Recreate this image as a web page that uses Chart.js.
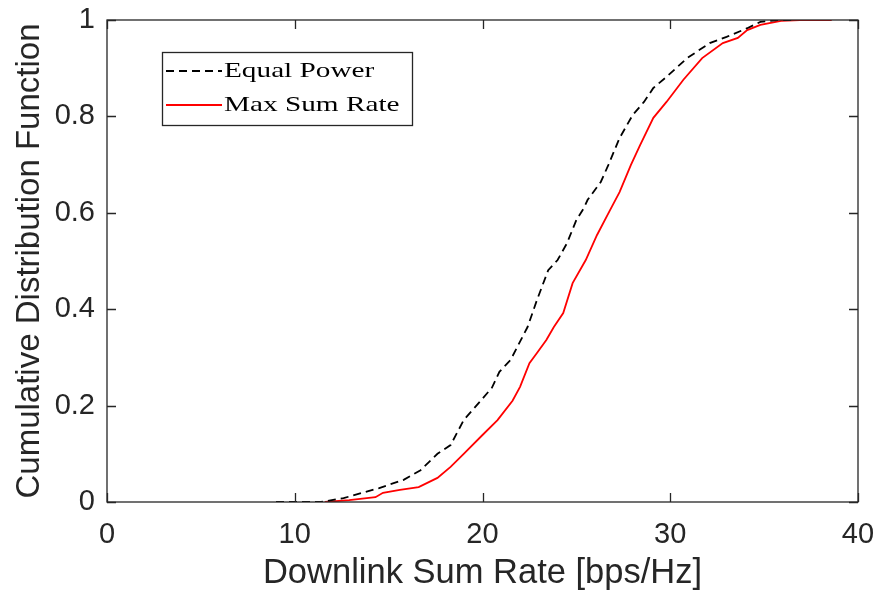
<!DOCTYPE html>
<html>
<head>
<meta charset="utf-8">
<script src="https://cdn.jsdelivr.net/npm/chart.js@4/dist/chart.umd.min.js"></script>
<style>
  html, body { margin: 0; padding: 0; background: #fff; }
  #wrap { width: 881px; height: 594px; }
</style>
</head>
<body>
<div id="wrap"><canvas id="cdf-chart" width="881" height="594"></canvas></div>
<script>
// valores
const xEqual = [9.0, 11.4, 12.6, 14.5, 15.8, 16.7, 17.6, 18.3, 19.0, 19.9, 20.5, 20.9, 21.5, 22.4, 22.9, 23.5, 24.0, 24.5, 25.0, 25.4, 25.6, 26.3, 26.7, 27.3, 28.0, 28.6, 29.1, 29.8, 30.9, 32.1, 33.0, 34.1, 34.8, 35.7, 36.5];
const yEqual = [0, 0, 0.008, 0.029, 0.046, 0.066, 0.10, 0.118, 0.17, 0.21, 0.237, 0.27, 0.295, 0.363, 0.419, 0.481, 0.502, 0.537, 0.585, 0.61, 0.627, 0.664, 0.699, 0.755, 0.803, 0.83, 0.859, 0.882, 0.921, 0.952, 0.965, 0.983, 0.996, 1, 1];

const xMax = [11.6, 12.9, 14.3, 14.7, 15.6, 16.6, 17.6, 18.3, 19.0, 20.0, 20.8, 21.6, 22.0, 22.5, 22.9, 23.4, 23.8, 24.3, 24.8, 25.5, 26.1, 26.8, 27.3, 27.9, 28.4, 29.1, 29.8, 30.7, 31.7, 32.8, 33.6, 34.1, 34.8, 35.9, 36.9, 38.6];
const yMax = [0, 0.004, 0.01, 0.019, 0.025, 0.031, 0.05, 0.073, 0.10, 0.139, 0.17, 0.21, 0.239, 0.288, 0.309, 0.336, 0.363, 0.392, 0.454, 0.502, 0.554, 0.606, 0.643, 0.699, 0.741, 0.797, 0.83, 0.876, 0.921, 0.952, 0.963, 0.979, 0.99, 0.998, 1, 1];

const seriesLabels = ['Equal Power', 'Max Sum Rate'];
const xTicks = [0, 10, 20, 30, 40];
const yTicks = [0, 0.2, 0.4, 0.6, 0.8, 1];

const axisColor = '#262626';
const sansFont = '"Liberation Sans", Arial, sans-serif';

function toPoints(xs, ys) {
    return xs.map((x, i) => ({ x: x, y: ys[i] }));
}

// caixa e marcas para dentro, estilo MATLAB
const boxTicks = {
    id: 'boxTicks',
    afterDatasetsDraw(chart) {
        const { ctx, chartArea: a, scales } = chart;
        const len = 9;
        ctx.save();
        ctx.strokeStyle = axisColor;
        ctx.lineWidth = 1.3;
        ctx.strokeRect(a.left, a.top, a.right - a.left, a.bottom - a.top);
        ctx.beginPath();
        xTicks.forEach(v => {
            const px = Math.round(scales.x.getPixelForValue(v)) + 0.5;
            ctx.moveTo(px, a.bottom); ctx.lineTo(px, a.bottom - len);
            ctx.moveTo(px, a.top); ctx.lineTo(px, a.top + len);
        });
        yTicks.forEach(v => {
            const py = Math.round(scales.y.getPixelForValue(v)) + 0.5;
            ctx.moveTo(a.left, py); ctx.lineTo(a.left + len, py);
            ctx.moveTo(a.right, py); ctx.lineTo(a.right - len, py);
        });
        ctx.stroke();
        ctx.restore();
    }
};

// legenda com moldura dentro da área do gráfico
const boxLegend = {
    id: 'boxLegend',
    afterDraw(chart) {
        const { ctx } = chart;
        const left = 162, top = 52, w = 250, h = 73;
        ctx.save();
        ctx.fillStyle = '#fff';
        ctx.fillRect(left, top, w, h);
        ctx.strokeStyle = axisColor;
        ctx.lineWidth = 1.3;
        ctx.strokeRect(left + 0.5, top + 0.5, w, h);
        ctx.textBaseline = 'middle';
        chart.data.datasets.forEach((ds, i) => {
            const cy = top + 19 + i * 34;
            ctx.beginPath();
            ctx.strokeStyle = ds.borderColor;
            ctx.lineWidth = ds.borderWidth;
            ctx.setLineDash(ds.borderDash || []);
            ctx.moveTo(left + 4, cy);
            ctx.lineTo(left + 60, cy);
            ctx.stroke();
            ctx.setLineDash([]);
            // texto mais largo, parecido com a fonte do LaTeX
            ctx.save();
            ctx.translate(left + 62, cy);
            ctx.scale(1.33, 1);
            ctx.font = '22px "Liberation Serif", "DejaVu Serif", serif';
            ctx.fillStyle = '#000';
            ctx.fillText(ds.label, 0, 0);
            ctx.restore();
        });
        ctx.restore();
    }
};

const ctx = document.getElementById('cdf-chart').getContext('2d');
const cdfChart = new Chart(ctx, {
    type: 'line',
    data: {
        datasets: [{
            label: seriesLabels[0],
            data: toPoints(xEqual, yEqual),
            borderColor: '#000000',
            borderWidth: 1.8,
            borderDash: [8, 5],
            pointRadius: 0,
            fill: false,
            tension: 0
        }, {
            label: seriesLabels[1],
            data: toPoints(xMax, yMax),
            borderColor: '#ff0000',
            borderWidth: 1.8,
            pointRadius: 0,
            fill: false,
            tension: 0
        }]
    },
    options: {
        responsive: false,
        animation: false,
        layout: { padding: { top: 20, right: 23, left: 10, bottom: 0 } },
        plugins: {
            legend: { display: false },
            tooltip: { enabled: false }
        },
        scales: {
            x: {
                type: 'linear',
                min: 0,
                max: 40,
                afterBuildTicks: s => { s.ticks = xTicks.map(v => ({ value: v })); },
                grid: { display: false, drawTicks: false },
                border: { display: false },
                ticks: {
                    color: axisColor,
                    font: { family: sansFont, size: 29 },
                    padding: 16,
                    maxRotation: 0
                },
                title: {
                    display: true,
                    text: 'Downlink Sum Rate [bps/Hz]',
                    color: axisColor,
                    font: { family: sansFont, size: 34.5 },
                    padding: { top: 2, bottom: 0 }
                },
                afterFit: s => { s.height = 92; s.paddingLeft = 0; s.paddingRight = 0; }
            },
            y: {
                type: 'linear',
                min: 0,
                max: 1,
                afterBuildTicks: s => { s.ticks = yTicks.map(v => ({ value: v })); },
                grid: { display: false, drawTicks: false },
                border: { display: false },
                ticks: {
                    color: axisColor,
                    font: { family: sansFont, size: 29 },
                    padding: 12,
                    callback: v => String(v)
                },
                title: {
                    display: true,
                    text: 'Cumulative Distribution Function',
                    color: axisColor,
                    font: { family: sansFont, size: 33 },
                    padding: { top: 0, bottom: 4 }
                },
                afterFit: s => { s.width = 97; s.paddingTop = 0; s.paddingBottom = 0; }
            }
        }
    },
    plugins: [boxTicks, boxLegend]
});
</script>
</body>
</html>
